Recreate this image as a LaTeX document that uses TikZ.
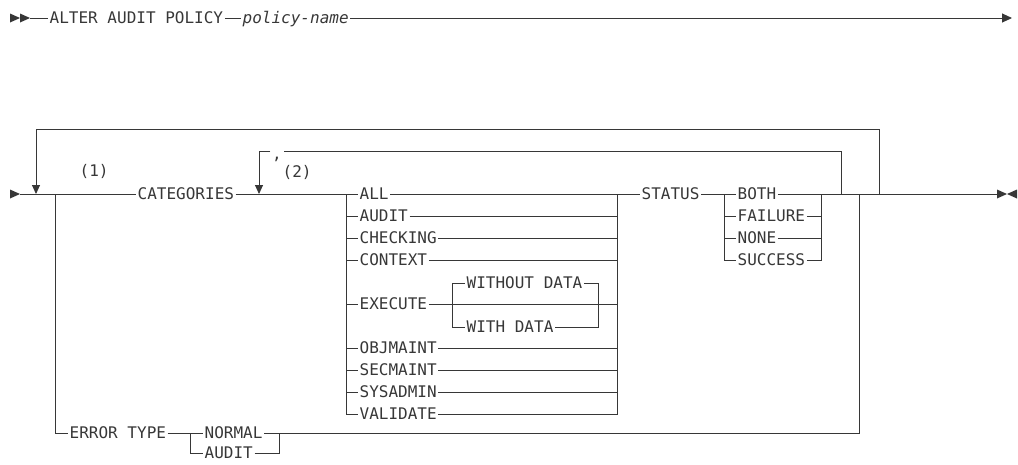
\documentclass[tikz,border=0pt]{standalone}
\usepackage{fontspec}
\setmonofont{DejaVu Sans Mono}
\usetikzlibrary{arrows.meta,calc}
\definecolor{railgray}{RGB}{55,55,55}

\begin{document}
\begin{tikzpicture}[x=1pt,y=-1pt,
		rail/.style={draw=railgray,line width=0.9pt},
		back/.style={rail,-{Triangle[length=9pt,width=8pt]}},
		kw/.style={anchor=west,inner xsep=1.5pt,inner ysep=0pt,text height=11.7pt,text depth=0pt,text=railgray,font=\ttfamily\fontsize{16}{16}\selectfont},
		tri/.pic={\fill[railgray] (0,-4.5) -- (10,0) -- (0,4.5) -- cycle;}]
		\useasboundingbox (0,0) rectangle (1018,464);

		\pic at (10,18) {tri};
		\pic at (20,18) {tri};
		\coordinate(s1) at (30,18);
		\coordinate(e1) at (1012,18);
		\node[kw] (alter) at (48,18) {ALTER AUDIT POLICY};
		\node[kw] (pname) at (241,18) {\itshape policy-name};
		\draw[rail] (s1) -- (alter);
		\draw[rail] (alter) -- (pname);
		\draw[rail,-{Triangle[length=10pt,width=9pt]}] (pname) -- (e1);

		\pic at (10,194) {tri};
		\pic at (997,194) {tri};
		\pic[xscale=-1] at (1017,194) {tri};
		\coordinate(s2) at (20,194);
		\coordinate(e2) at (997,194);
		\coordinate(outL) at (36,194);
		\coordinate(outR) at (879,194);
		\coordinate(repL) at (259,194);
		\coordinate(repR) at (841,194);
		\coordinate(errL) at (55,194);
		\coordinate(errR) at (859,194);
		\coordinate(chL) at (346,194);
		\coordinate(chR) at (617,194);
		\coordinate(exL) at (452,305);
		\coordinate(exR) at (598,305);
		\coordinate(stL) at (724,194);
		\coordinate(stR) at (821,194);
		\coordinate(etL) at (190,433);
		\coordinate(etR) at (279,433);

		\node[kw] (one) at (78,171) {(1)};
		\node[kw] (two) at (281,172) {(2)};
		\node[kw,anchor=center,yshift=-3pt] (comma) at (277,151) {,};
		\node[kw] (cat) at (136,194) {CATEGORIES};
		\node[kw] (status) at (640,194) {STATUS};
		\node[kw] (without) at (465,283) {WITHOUT DATA};
		\node[kw] (withdata) at (465,327) {WITH DATA};
		\node[kw] (errtype) at (68,433) {ERROR TYPE};
		\node[kw] (normal) at (203,433) {NORMAL};
		\node[kw] (audit2) at (203,453) {AUDIT};

		\draw[rail] (s2) -- (cat);
		\draw[back] (outR) -- ++(0,-65) -| (outL);
		\draw[rail] (repR) -- ++(0,-43) -- (comma.east |- 0,151);
		\draw[back] (comma.west |- 0,151) -| (repL);

		\foreach \n/\t/\i in {all/ALL/0,audit/AUDIT/1,checking/CHECKING/2,context/CONTEXT/3,execute/EXECUTE/5,objmaint/OBJMAINT/7,secmaint/SECMAINT/8,sysadmin/SYSADMIN/9,validate/VALIDATE/10}{
			\node[kw] (\n) at (358,194+22*\i) {\t};
			\draw[rail] (chL) |- (\n);
			\draw[rail] (\n) -| (chR);
		}
		\draw[rail] (cat) -- (chL);
		\draw[rail] (exL) |- (without);
		\draw[rail] (without) -| (exR);
		\draw[rail] (exL) |- (withdata);
		\draw[rail] (withdata) -| (exR);

		\draw[rail] (chR) -- (status);
		\foreach \n/\t/\i in {both/BOTH/0,failure/FAILURE/1,none/NONE/2,success/SUCCESS/3}{
			\node[kw] (\n) at (736,194+22*\i) {\t};
			\draw[rail] (stL) |- (\n);
			\draw[rail] (\n) -| (stR);
		}
		\draw[rail] (status) -- (both);
		\draw[rail] (stR) -- (e2);

		\draw[rail] (errL) |- (errtype);
		\draw[rail] (errtype) -- (normal);
		\draw[rail] (normal) -| (errR);
		\draw[rail] (etL) |- (audit2);
		\draw[rail] (audit2) -| (etR);
	\end{tikzpicture}
\end{document}
